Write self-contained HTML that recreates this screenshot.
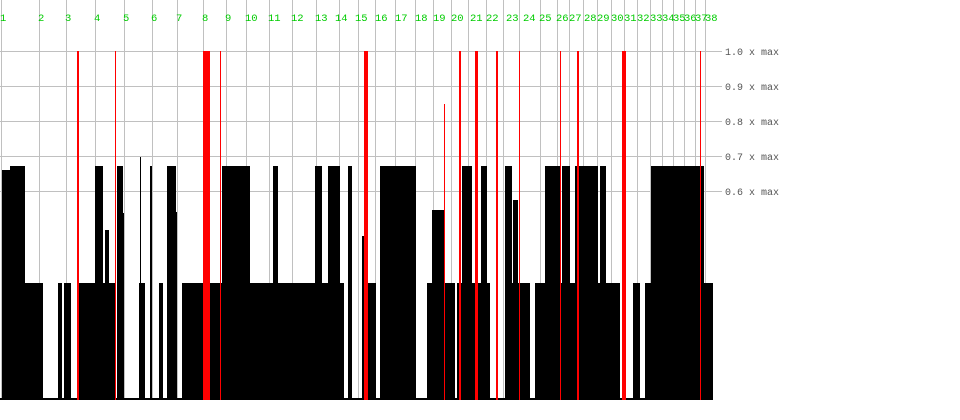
<!DOCTYPE html>
<html><head><style>
body{margin:0;background:#fff}
svg{display:block}
.t{font-family:"Liberation Mono",monospace;font-size:10.5px;fill:#00cc00}
.r{font-family:"Liberation Mono",monospace;font-size:10px;fill:#555}
</style></head><body>
<svg width="960" height="420" xmlns="http://www.w3.org/2000/svg" shape-rendering="crispEdges">
<g stroke="#c0c0c0" stroke-width="1">
<line x1="0" y1="51.5" x2="722" y2="51.5"/><line x1="0" y1="86.5" x2="722" y2="86.5"/>
<line x1="0" y1="121.5" x2="722" y2="121.5"/><line x1="0" y1="156.5" x2="722" y2="156.5"/>
<line x1="0" y1="191.5" x2="722" y2="191.5"/>
<line x1="1.5" y1="0" x2="1.5" y2="400"/><line x1="39.5" y1="0" x2="39.5" y2="400"/><line x1="66.5" y1="0" x2="66.5" y2="400"/><line x1="95.5" y1="0" x2="95.5" y2="400"/><line x1="124.5" y1="0" x2="124.5" y2="400"/><line x1="152.5" y1="0" x2="152.5" y2="400"/><line x1="177.5" y1="0" x2="177.5" y2="400"/><line x1="203.5" y1="0" x2="203.5" y2="400"/><line x1="226.5" y1="0" x2="226.5" y2="400"/><line x1="246.5" y1="0" x2="246.5" y2="400"/><line x1="269.5" y1="0" x2="269.5" y2="400"/><line x1="292.5" y1="0" x2="292.5" y2="400"/><line x1="316.5" y1="0" x2="316.5" y2="400"/><line x1="339.5" y1="0" x2="339.5" y2="400"/><line x1="358.5" y1="0" x2="358.5" y2="400"/><line x1="375.5" y1="0" x2="375.5" y2="400"/><line x1="395.5" y1="0" x2="395.5" y2="400"/><line x1="415.5" y1="0" x2="415.5" y2="400"/><line x1="433.5" y1="0" x2="433.5" y2="400"/><line x1="451.5" y1="0" x2="451.5" y2="400"/><line x1="468.5" y1="0" x2="468.5" y2="400"/><line x1="486.5" y1="0" x2="486.5" y2="400"/><line x1="503.5" y1="0" x2="503.5" y2="400"/><line x1="519.5" y1="0" x2="519.5" y2="400"/><line x1="540.5" y1="0" x2="540.5" y2="400"/><line x1="557.5" y1="0" x2="557.5" y2="400"/><line x1="569.5" y1="0" x2="569.5" y2="400"/><line x1="583.5" y1="0" x2="583.5" y2="400"/><line x1="597.5" y1="0" x2="597.5" y2="400"/><line x1="611.5" y1="0" x2="611.5" y2="400"/><line x1="624.5" y1="0" x2="624.5" y2="400"/><line x1="637.5" y1="0" x2="637.5" y2="400"/><line x1="650.5" y1="0" x2="650.5" y2="400"/><line x1="662.5" y1="0" x2="662.5" y2="400"/><line x1="673.5" y1="0" x2="673.5" y2="400"/><line x1="684.5" y1="0" x2="684.5" y2="400"/><line x1="695.5" y1="0" x2="695.5" y2="400"/><line x1="705.5" y1="0" x2="705.5" y2="400"/>
</g>
<g fill="#000">
<rect x="2" y="170" width="8" height="230"/><rect x="10" y="166" width="15" height="234"/><rect x="25" y="283" width="18" height="117"/>
<rect x="58" y="283" width="4" height="117"/><rect x="64" y="283" width="7" height="117"/>
<rect x="79" y="283" width="16" height="117"/><rect x="95" y="166" width="8" height="234"/><rect x="103" y="283" width="12" height="117"/><rect x="105" y="230" width="4" height="60"/>
<rect x="117" y="166" width="6" height="234"/><rect x="123" y="213" width="1" height="187"/>
<rect x="139" y="283" width="6" height="117"/><rect x="140" y="157" width="1" height="130"/><rect x="150" y="166" width="2" height="234"/><rect x="159" y="283" width="4" height="117"/>
<rect x="167" y="166" width="9" height="234"/><rect x="176" y="212" width="1" height="188"/>
<rect x="182" y="283" width="21" height="117"/><rect x="209" y="283" width="26" height="117"/><rect x="222" y="166" width="13" height="120"/>
<rect x="235" y="166" width="15" height="234"/><rect x="250" y="283" width="23" height="117"/><rect x="273" y="166" width="5" height="234"/>
<rect x="278" y="283" width="37" height="117"/><rect x="315" y="166" width="7" height="234"/><rect x="322" y="283" width="22" height="117"/><rect x="328" y="166" width="12" height="120"/>
<rect x="348" y="166" width="4" height="234"/>
<rect x="362" y="236" width="4" height="164"/><rect x="366" y="283" width="10" height="117"/>
<rect x="380" y="166" width="36" height="234"/>
<rect x="427" y="283" width="28" height="117"/><rect x="432" y="210" width="12" height="80"/>
<rect x="457" y="283" width="18" height="117"/><rect x="462" y="166" width="10" height="120"/>
<rect x="478" y="283" width="12" height="117"/><rect x="481" y="166" width="6" height="120"/>
<rect x="505" y="166" width="7" height="234"/><rect x="512" y="283" width="18" height="117"/><rect x="513" y="200" width="5" height="90"/>
<rect x="535" y="283" width="10" height="117"/><rect x="545" y="166" width="15" height="234"/><rect x="560" y="283" width="15" height="117"/><rect x="562" y="166" width="8" height="120"/>
<rect x="575" y="166" width="23" height="234"/><rect x="598" y="283" width="22" height="117"/><rect x="600" y="166" width="6" height="120"/>
<rect x="633" y="283" width="7" height="117"/><rect x="645" y="283" width="6" height="117"/>
<rect x="651" y="166" width="49" height="234"/><rect x="700" y="283" width="13" height="117"/><rect x="700" y="166" width="4" height="120"/>
<rect x="0" y="398" width="713" height="2"/>
</g>
<g fill="#ff0000">
<rect x="77" y="51" width="2" height="349"/><rect x="115" y="51" width="1" height="349"/><rect x="203" y="51" width="7" height="349"/><rect x="220" y="51" width="1" height="349"/>
<rect x="364" y="51" width="4" height="349"/><rect x="444" y="104" width="1" height="296"/><rect x="459" y="51" width="2" height="349"/><rect x="475" y="51" width="3" height="349"/><rect x="496" y="51" width="2" height="349"/><rect x="519" y="51" width="1" height="349"/><rect x="560" y="51" width="1" height="349"/><rect x="577" y="51" width="2" height="349"/><rect x="622" y="51" width="4" height="349"/><rect x="700" y="51" width="1" height="349"/>
</g>
<g class="t">
<text x="0" y="21">1</text><text x="38" y="21">2</text><text x="65" y="21">3</text><text x="94" y="21">4</text><text x="123" y="21">5</text><text x="151" y="21">6</text><text x="176" y="21">7</text><text x="202" y="21">8</text><text x="225" y="21">9</text><text x="245" y="21">10</text><text x="268" y="21">11</text><text x="291" y="21">12</text><text x="315" y="21">13</text><text x="335" y="21">14</text><text x="355" y="21">15</text><text x="375" y="21">16</text><text x="395" y="21">17</text><text x="415" y="21">18</text><text x="433" y="21">19</text><text x="451" y="21">20</text><text x="470" y="21">21</text><text x="486" y="21">22</text><text x="506" y="21">23</text><text x="523" y="21">24</text><text x="539" y="21">25</text><text x="556" y="21">26</text><text x="569" y="21">27</text><text x="584" y="21">28</text><text x="597" y="21">29</text><text x="611" y="21">30</text><text x="624" y="21">31</text><text x="637" y="21">32</text><text x="650" y="21">33</text><text x="662" y="21">34</text><text x="673" y="21">35</text><text x="684" y="21">36</text><text x="695" y="21">37</text><text x="705" y="21">38</text>
</g>
<g class="r">
<text x="725" y="55">1.0 x max</text><text x="725" y="90">0.9 x max</text><text x="725" y="125">0.8 x max</text><text x="725" y="160">0.7 x max</text><text x="725" y="195">0.6 x max</text>
</g>
</svg>
</body></html>
